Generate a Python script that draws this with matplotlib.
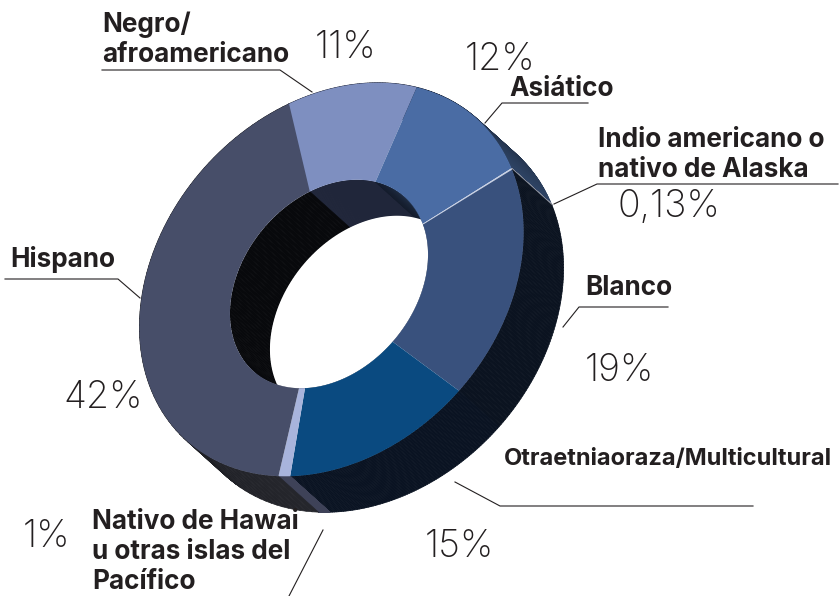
import numpy as np
import matplotlib
matplotlib.use('Agg')
import matplotlib.pyplot as plt
from matplotlib.patches import Polygon
from matplotlib.collections import PolyCollection
from matplotlib.colors import to_rgb

# chart data, clockwise from the top left
labels = ['Negro/\nafroamericano', 'Asiático', 'Indio americano o\nnativo de Alaska', 'Blanco',
          'Otraetniaoraza/Multicultural', 'Nativo de Hawai\nu otras islas del\nPacífico', 'Hispano']
values = [11, 12, 0.13, 19, 15, 1, 42]
value_text = ['11%', '12%', '0,13%', '19%', '15%', '1%', '42%']

top_colors = ['#7e8fc0', '#4a6ca4', '#c8d0e4', '#39517d', '#0a4a80', '#a8b4dc', '#474e69']
# side walls, start and end of a fake gradient
wall_colors = [('#20263a', '#20263a'), ('#141c2c', '#2e4364'), ('#8a8f9c', '#8a8f9c'), ('#0b1320', '#0b1320'),
               ('#0a1322', '#0a1322'), ('#3e4258', '#3e4258'), ('#25262c', '#0c0d11')]
inner_colors = list(wall_colors)
inner_colors[6] = ('#77777c', '#08090c')

label_pos = [(102, 32), (509, 96), (598, 147), (585, 295), (504, 465), (92, 529), (10, 267)]
value_pos = [(315, 58), (465, 70), (617, 217), (585, 381), (425, 557), (23, 547), (63, 408)]
label_sizes = [18.8, 18.8, 18.8, 18.8, 17, 18.8, 18.8]

# leader lines in picture pixels
leaders = [[(102, 70), (280, 70), (312, 92)],
           [(588, 103), (502, 103), (485, 123)],
           [(838, 184), (597, 184), (554, 204)],
           [(668, 307), (579, 307), (563, 327)],
           [(753, 506), (500, 506), (455, 482)],
           [(323, 530), (289, 596)],
           [(5, 279), (118, 279), (140, 298)]]

# flat pie -> picture pixels, centre and two axes for each ring edge
outer = ((331.5, 279.5), (-44, -175), (187, -90))
inner = ((329, 284), (-20, -92), (97, -49))
depth = np.array([40, 36])

fig = plt.figure(figsize=(8.39, 5.96), dpi=100)
ax = fig.add_axes([0, 0, 1, 1])
ax.set_xlim(0, 839)
ax.set_ylim(596, 0)
ax.axis('off')


def arc(t, ring):
    c, a, b = ring
    return np.column_stack([c[0] + a[0] * np.cos(t) + b[0] * np.sin(t),
                            c[1] + a[1] * np.cos(t) + b[1] * np.sin(t)])


def wall(t1, t2, ring, colors, zorder, clip=None, sharp=1):
    t = np.linspace(t1, t2, 80)
    p = arc(t, ring)
    q = p + depth
    polys = [[p[i], p[i + 1], q[i + 1], q[i]] for i in range(len(t) - 1)]
    c1, c2 = np.array(to_rgb(colors[0])), np.array(to_rgb(colors[1]))
    f = np.clip(np.linspace(0, 1, len(polys)) * sharp, 0, 1)[:, None]
    fc = c1 * (1 - f) + c2 * f
    pc = PolyCollection(polys, facecolors=fc, edgecolors=fc, linewidths=0.5, zorder=zorder)
    ax.add_collection(pc)
    if clip is not None:
        pc.set_clip_path(clip)


edges = np.deg2rad(np.concatenate([[0], np.cumsum(values)]) * 3.6)
full = np.linspace(0, 2 * np.pi, 300)

for i in range(len(values)):
    wall(edges[i], edges[i + 1], outer, wall_colors[i], 1)

# the hole is white first, then the inner wall is clipped to it
hole_patch = Polygon(arc(full, inner), closed=True, facecolor='white', edgecolor='none', zorder=3)
ax.add_patch(hole_patch)
for i in range(len(values)):
    wall(edges[i], edges[i + 1], inner, inner_colors[i], 4, clip=hole_patch, sharp=4 if i == 6 else 1)
# white part you can see through
see_through = Polygon(arc(full, inner) + depth, closed=True, facecolor='white', edgecolor='none', zorder=5)
ax.add_patch(see_through)
see_through.set_clip_path(hole_patch)

for i, c in enumerate(top_colors):
    t = np.linspace(edges[i], edges[i + 1], 120)
    ring_pts = np.vstack([arc(t, outer), arc(t[::-1], inner)])
    ax.add_patch(Polygon(ring_pts, closed=True, facecolor=c, edgecolor='none', zorder=6))

for pts in leaders:
    xs, ys = zip(*pts)
    ax.plot(xs, ys, color='#231f20', lw=0.8, zorder=7)

for lab, pos, size in zip(labels, label_pos, label_sizes):
    for k, line in enumerate(lab.split('\n')):
        ax.text(pos[0], pos[1] + k * 30, line, fontsize=size, fontweight='bold', family='Inter',
                color='#231f20', ha='left', va='baseline', zorder=8)

for txt, pos in zip(value_text, value_pos):
    ax.text(pos[0], pos[1], txt, fontsize=27, fontweight='light', family='Inter',
            color='#231f20', ha='left', va='baseline', zorder=8)

fig.savefig('out.png', dpi=100)
